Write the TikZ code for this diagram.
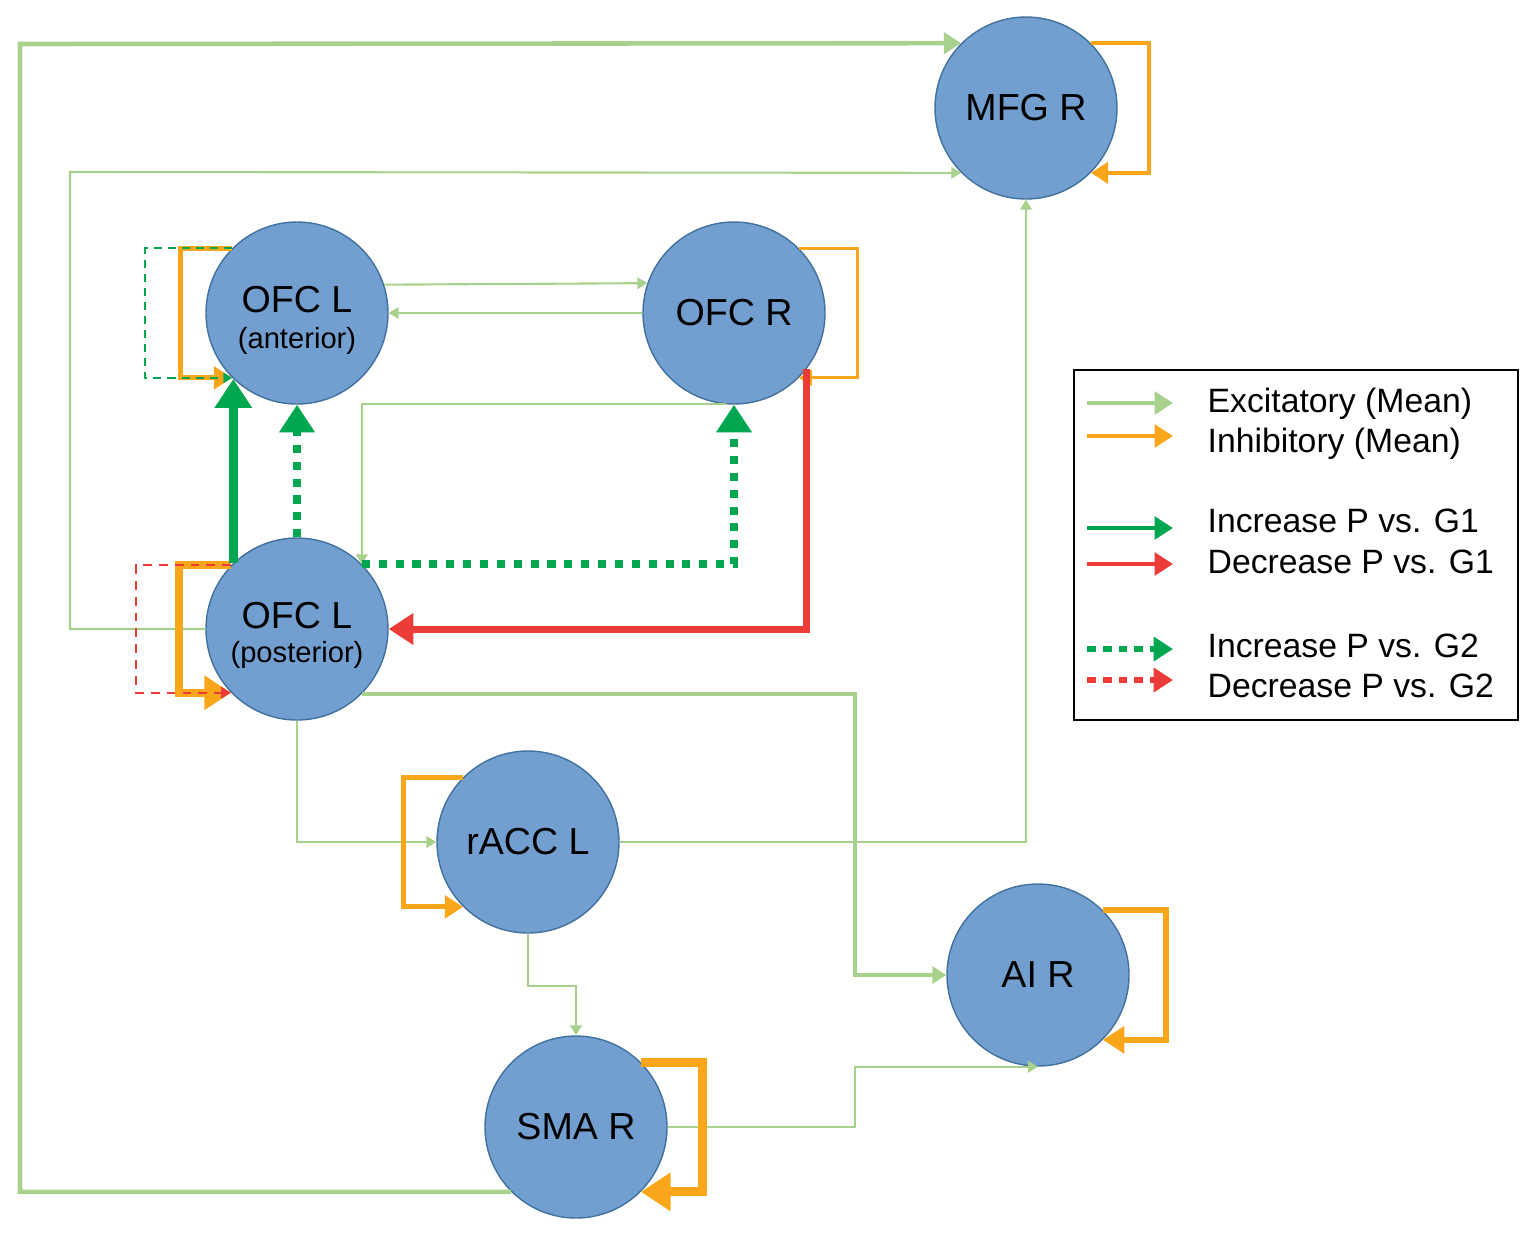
\documentclass[tikz,border=0pt]{standalone}
\usepackage{fontspec}
\setmainfont{Liberation Sans}
\usepackage{tikz}
\usetikzlibrary{arrows.meta}
\definecolor{regionblue}{RGB}{114,159,207}
\definecolor{regionedge}{RGB}{65,113,156}
\definecolor{excgreen}{RGB}{169,209,142}
\definecolor{inhorange}{RGB}{250,166,26}
\definecolor{incgreen}{RGB}{0,166,80}
\definecolor{decred}{RGB}{235,60,55}

\begin{document}
\begin{tikzpicture}[x=0.1mm,y=-0.1mm,>={Triangle[length=1pt 3,width=1pt 3.8]},
		region/.style = {circle,draw=regionedge,line width=0.4pt,fill=regionblue,minimum size=18.2mm,inner sep=0pt,font=\fontsize{10.7}{12}\selectfont},
		regname/.style = {anchor=base,font=\fontsize{10.7}{12}\selectfont},
		regsub/.style = {anchor=base,font=\fontsize{8.3}{10}\selectfont},
		exc/.style = {->,excgreen,line width=#1},exc/.default=0.6pt,
		inh/.style = {->,inhorange,line width=#1},inh/.default=1.4pt,
		incG1/.style = {->,incgreen,line width=#1},incG1/.default=2.4pt,
		decG1/.style = {->,decred,line width=#1},decG1/.default=2pt,
		incG2/.style = {->,incgreen,line width=#1,dash pattern=on 2.3pt off 2.5pt},incG2/.default=2.3pt,
		decG2/.style = {->,decred,line width=#1,dash pattern=on 2.5pt off 2pt},decG2/.default=1.5pt,
		selfG1/.style = {->,incgreen,line width=0.5pt,dash pattern=on 2.3pt off 1.7pt},
		selfG2/.style = {->,decred,line width=0.6pt,dash pattern=on 2.5pt off 2pt},
		legtext/.style = {anchor=base west,inner sep=0pt,font=\fontsize{9.6}{11}\selectfont}
		]
		\useasboundingbox (0,0) rectangle (1535,1242);
		%REGIONI
		\node[region] (mfg) at (1026,108) {MFG R};
		\node[region] (ofcla) at (297,313) {};
		\node[regname] (ofclaname) at (297,312) {OFC L};
		\node[regsub] (ofclasub) at (297,348) {(anterior)};
		\node[region] (ofcr) at (734,313) {OFC R};
		\node[region] (ofclp) at (297,629) {};
		\node[regname] (ofclpname) at (297,628) {OFC L};
		\node[regsub] (ofclpsub) at (297,662) {(posterior)};
		\node[region] (racc) at (528,842) {rACC L};
		\node[region] (ai) at (1038,975) {AI R};
		\node[region] (sma) at (576,1127) {SMA R};
		%Eccitatorie
		\draw[exc=1.3pt] (sma.225) -| (20,44) -- (mfg.135);
		\draw[exc] (ofclp.west) -| (70,172) -- (mfg.225);
		\draw[exc] (ofcla.18.6) -- (ofcr.161.4);
		\draw[exc] (ofcr.west) -- (ofcla.east);
		\draw[exc] (ofcr.265) -| (ofclp.45);
		\draw[exc] (ofclp.south) |- (racc.west);
		\draw[exc] (racc.east) -| (mfg.south);
		\draw[exc] (racc.south) -- ++(0,52) -| (sma.north);
		\draw[exc=1pt] (ofclp.-45) -- ++(493,0) |- (ai.west);
		\draw[exc] (sma.east) -- ++(187,0) |- (ai.south);
		%Inibitorie (self)
		\draw[inh=1.4pt] (ofcla.135) -- ++(-52,0) |- (ofcla.225);
		\draw[inh=2.2pt] (ofclp.136) -- ++(-52,0) |- (ofclp.224);
		\draw[inh=0.9pt] (ofcr.45) -- ++(59,0) |- (ofcr.-45);
		\draw[inh=1.3pt] (mfg.45) -- ++(58,0) |- (mfg.-45);
		\draw[inh=1.4pt] (racc.135) -- ++(-60,0) |- (racc.225);
		\draw[inh=1.7pt] (ai.45) -- ++(63,0) |- (ai.-45);
		\draw[inh=2.5pt] (sma.45) -- ++(62,0) |- (sma.-45);
		\draw[selfG1] (ofcla.135) -- ++(-87,0) |- (ofcla.225);
		\draw[selfG2] (ofclp.136) -- ++(-95,0) |- (ofclp.224);
		%P vs. G1
		\draw[incG1] (ofclp.134) -- (ofcla.226);
		\draw[decG1] (ofcr.-38) |- (ofclp.east);
		%P vs. G2
		\draw[incG2] (ofclp.north) -- (ofcla.south);
		\draw[incG2] (ofclp.45) -| (ofcr.south);
		%LEGENDA
		\draw[line width=0.7pt] (1074,370) rectangle (1518,720);
		\draw[exc=1.4pt] (1087,403) -- (1173,403);
		\node[legtext] (legexc) at (1207,412) {Excitatory (Mean)};
		\draw[inh=1.4pt] (1087,436) -- (1173,436);
		\node[legtext] (leginh) at (1207,452) {Inhibitory (Mean)};
		\draw[incG1=1.4pt] (1087,528) -- (1173,528);
		\node[legtext] (legincone) at (1207,532) {Increase P vs. G1};
		\draw[decG1=1.4pt] (1087,564) -- (1173,564);
		\node[legtext] (legdecone) at (1207,573) {Decrease P vs. G1};
		\draw[incG2=1.5pt,dash pattern=on 2.5pt off 2pt] (1087,649) -- (1173,649);
		\node[legtext] (leginctwo) at (1207,657) {Increase P vs. G2};
		\draw[decG2] (1087,680) -- (1173,680);
		\node[legtext] (legdectwo) at (1207,697) {Decrease P vs. G2};
	\end{tikzpicture}
\end{document}
